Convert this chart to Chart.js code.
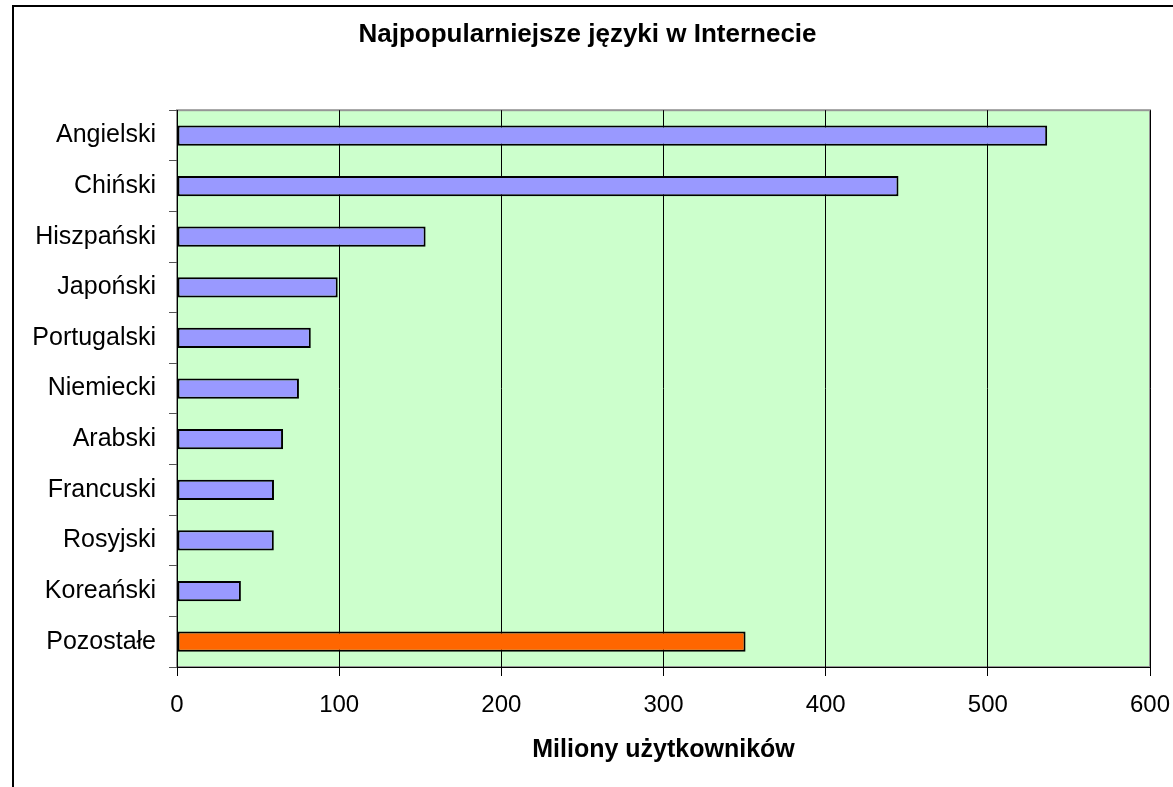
<!DOCTYPE html>
<html lang="pl">
<head>
<meta charset="utf-8">
<title>Najpopularniejsze języki w Internecie</title>
<script src="https://cdn.jsdelivr.net/npm/chart.js@4/dist/chart.umd.min.js"></script>
<style>
    html, body { margin: 0; padding: 0; background: #fff; overflow: hidden; }
    #frame {
        position: absolute; left: 12px; top: 5px; width: 1400px; height: 1000px;
        border-left: 2px solid #000; border-top: 2px solid #000;
    }
    #wrap { position: absolute; left: 0; top: 0; width: 1173px; height: 787px; }
</style>
</head>
<body>
<div id="frame"></div>
<div id="wrap"><canvas id="chart"></canvas></div>
<script>
// Dane (miliony użytkowników)
const languages = ['Angielski', 'Chiński', 'Hiszpański', 'Japoński', 'Portugalski',
    'Niemiecki', 'Arabski', 'Francuski', 'Rosyjski', 'Koreański', 'Pozostałe'];
const users = [536.6, 444.9, 153.3, 99.1, 82.5, 75.2, 65.4, 59.8, 59.7, 39.4, 350.6];
const xTicks = [0, 100, 200, 300, 400, 500, 600];

const FONT = "'Liberation Sans', Arial, Helvetica, sans-serif";

/**
 * Tło obszaru wykresu (jasnozielone) z szarą ramką
 */
const plotBackground = {
    id: 'plotBackground',
    beforeDraw(chart) {
        const { ctx, chartArea: a } = chart;
        ctx.save();
        ctx.fillStyle = 'rgba(204, 255, 204, 1)';
        ctx.fillRect(a.left, a.top, a.right - a.left, a.bottom - a.top);
        ctx.strokeStyle = 'rgba(150, 150, 150, 1)';
        ctx.lineWidth = 2;
        ctx.strokeRect(a.left, a.top, a.right - a.left, a.bottom - a.top);
        ctx.restore();
    }
};

const barColors = languages.map(l => l === 'Pozostałe' ? 'rgba(255, 102, 0, 1)' : 'rgba(153, 153, 255, 1)');

const config = {
    type: 'bar',
    data: {
        labels: languages,
        datasets: [{
            data: users,
            backgroundColor: barColors,
            borderColor: 'rgba(0, 0, 0, 1)',
            borderWidth: 2,
            borderSkipped: false,
            barPercentage: 0.4,
            categoryPercentage: 1
        }]
    },
    options: {
        indexAxis: 'y',
        responsive: true,
        maintainAspectRatio: false,
        animation: false,
        layout: { padding: { left: 25, right: 23, top: 0, bottom: 0 } },
        plugins: {
            legend: { display: false },
            tooltip: { enabled: false },
            title: {
                display: true,
                text: 'Najpopularniejsze języki w Internecie',
                color: '#000',
                font: { family: FONT, size: 26, weight: 'bold' },
                padding: { top: 19, bottom: 60 }
            }
        },
        scales: {
            x: {
                min: 0,
                max: 600,
                afterBuildTicks: scale => { scale.ticks = xTicks.map(v => ({ value: v })); },
                afterFit: scale => {
                    scale.height = 120;
                    scale.paddingLeft = 0;
                    scale.paddingRight = 0;
                },
                grid: { color: '#000', lineWidth: 1, tickLength: 9, tickColor: '#000' },
                border: { color: '#000', width: 1 },
                ticks: { color: '#000', padding: 15, font: { family: FONT, size: 24 } },
                title: {
                    display: true,
                    text: 'Miliony użytkowników',
                    color: '#000',
                    font: { family: FONT, size: 25, weight: 'bold' },
                    padding: { top: 0, bottom: 22 }
                }
            },
            y: {
                afterFit: scale => {
                    scale.width = 152;
                    scale.paddingTop = 0;
                    scale.paddingBottom = 0;
                },
                grid: { drawOnChartArea: false, tickLength: 8, tickColor: '#555', offset: true },
                border: { color: '#000', width: 1 },
                ticks: { color: '#000', padding: 13, font: { family: FONT, size: 25 } }
            }
        }
    },
    plugins: [plotBackground]
};

const chart = new Chart(document.getElementById('chart'), config);
</script>
</body>
</html>
